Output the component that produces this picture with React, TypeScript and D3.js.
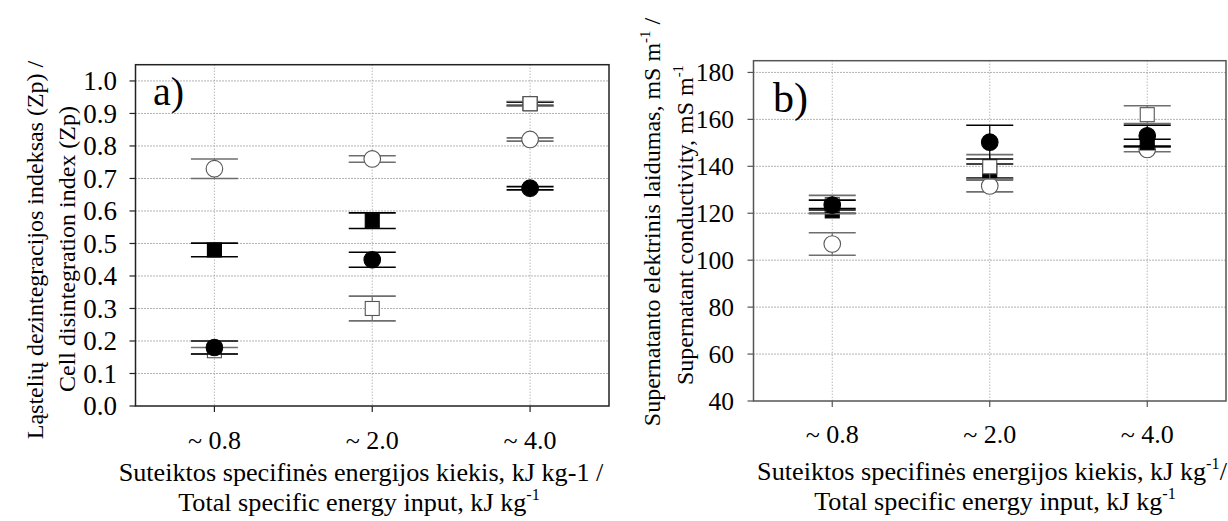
import React, { useEffect, useRef } from 'react';
import * as d3 from 'd3';

const categories = ['~ 0.8', '~ 2.0', '~ 4.0'];

// a) cell disintegration index (Zp)
const zpOpenCircle = [0.73, 0.76, 0.82];
const zpOpenCircleErr = [0.03, 0.01, 0.005];
const zpFilledCircle = [0.18, 0.45, 0.67];
const zpFilledCircleErr = [0.02, 0.023, 0.005];
const zpOpenSquare = [0.17, 0.30, 0.93];
const zpOpenSquareErr = [0.01, 0.038, 0.007];
const zpFilledSquare = [0.48, 0.57, 0.93];
const zpFilledSquareErr = [0.021, 0.024, 0.005];
const zpTicks = [0, 0.1, 0.2, 0.3, 0.4, 0.5, 0.6, 0.7, 0.8, 0.9, 1.0];

// b) supernatant conductivity, mS/m
const condOpenCircle = [106.9, 131.6, 147.2];
const condOpenCircleErr = [4.8, 2.5, 1.0];
const condFilledCircle = [123.5, 150.3, 153];
const condFilledCircleErr = [2.1, 7.2, 4.5];
const condOpenSquare = [123.7, 139.8, 162];
const condOpenSquareErr = [3.9, 5.2, 3.8];
const condFilledSquare = [121, 138, 150];
const condFilledSquareErr = [1.0, 3.0, 1.5];
const condTicks = [40, 60, 80, 100, 120, 140, 160, 180];

const FONT = "'Liberation Serif', 'Times New Roman', Times, serif";

type Part = [string, boolean];

function addRich(text: any, parts: Part[], size: number) {
  let raised = false;
  parts.forEach(([t, sup]) => {
    const ts = text.append('tspan').text(t);
    if (sup && !raised) {
      ts.attr('dy', -size * 0.42).style('font-size', `${size * 0.62}px`);
      raised = true;
    } else if (sup) {
      ts.style('font-size', `${size * 0.62}px`);
    } else if (raised) {
      ts.attr('dy', size * 0.42);
      raised = false;
    }
  });
}

interface PanelCfg {
  left: number; right: number; top: number; bottom: number;
  domain: [number, number];
  ticks: number[];
  fmt: (v: number) => string;
  frame: string;
  tag: string; tagX: number; tagY: number; tagSize: number;
  catBaseline: number;
  labelRight: number; labelSize: number;
  series: { values: number[]; errs: number[]; shape: 'circle' | 'square'; filled: boolean }[];
}

const App = () => {
  const ref = useRef<SVGSVGElement>(null);

  useEffect(() => {
    const svg = d3.select(ref.current);
    svg.selectAll('*').remove();

    const panels: PanelCfg[] = [
      {
        left: 135.5, right: 609, top: 64.7, bottom: 406,
        domain: [0, 1.05], ticks: zpTicks, fmt: d3.format('.1f'), frame: '#222',
        tag: 'a)', tagX: 153, tagY: 105, tagSize: 40, catBaseline: 449,
        labelRight: 117, labelSize: 27,
        series: [
          { values: zpOpenCircle, errs: zpOpenCircleErr, shape: 'circle', filled: false },
          { values: zpFilledSquare, errs: zpFilledSquareErr, shape: 'square', filled: true },
          { values: zpOpenSquare, errs: zpOpenSquareErr, shape: 'square', filled: false },
          { values: zpFilledCircle, errs: zpFilledCircleErr, shape: 'circle', filled: true },
        ],
      },
      {
        left: 753.5, right: 1226, top: 60.7, bottom: 401,
        domain: [40, 185], ticks: condTicks, fmt: d3.format('d'), frame: '#555',
        tag: 'b)', tagX: 773, tagY: 112, tagSize: 42, catBaseline: 443,
        labelRight: 734, labelSize: 25.5,
        series: [
          { values: condOpenCircle, errs: condOpenCircleErr, shape: 'circle', filled: false },
          { values: condFilledSquare, errs: condFilledSquareErr, shape: 'square', filled: true },
          { values: condOpenSquare, errs: condOpenSquareErr, shape: 'square', filled: false },
          { values: condFilledCircle, errs: condFilledCircleErr, shape: 'circle', filled: true },
        ],
      },
    ];

    panels.forEach(p => {
      const g = svg.append('g');
      const x = d3.scaleBand().domain(categories).range([p.left, p.right]);
      const cx = (c: string) => (x(c) as number) + x.bandwidth() / 2;
      const y = d3.scaleLinear().domain(p.domain).range([p.bottom, p.top]);

      // grid
      g.selectAll('.hgrid').data(p.ticks.filter(t => t > p.domain[0])).enter().append('line')
        .attr('x1', p.left).attr('x2', p.right)
        .attr('y1', d => y(d)).attr('y2', d => y(d))
        .attr('stroke', '#666').attr('stroke-width', 1).attr('stroke-dasharray', '1,2');
      g.selectAll('.vgrid').data(categories).enter().append('line')
        .attr('x1', d => cx(d)).attr('x2', d => cx(d))
        .attr('y1', p.top).attr('y2', p.bottom)
        .attr('stroke', '#999').attr('stroke-width', 1).attr('stroke-dasharray', '1,2');

      // y ticks and labels
      g.selectAll('.ytick').data(p.ticks).enter().append('line')
        .attr('x1', p.left - 6).attr('x2', p.left)
        .attr('y1', d => y(d)).attr('y2', d => y(d))
        .attr('stroke', p.frame).attr('stroke-width', 1.2);
      g.selectAll('.ylab').data(p.ticks).enter().append('text')
        .attr('x', p.labelRight).attr('y', d => y(d)).attr('dy', '0.34em')
        .attr('text-anchor', 'end').style('font-family', FONT).style('font-size', `${p.labelSize}px`)
        .text(d => p.fmt(d));

      // x ticks and labels
      g.selectAll('.xtick').data(categories).enter().append('line')
        .attr('x1', d => cx(d)).attr('x2', d => cx(d))
        .attr('y1', p.bottom).attr('y2', p.bottom + 6)
        .attr('stroke', p.frame).attr('stroke-width', 1.2);
      g.selectAll('.xlab').data(categories).enter().append('text')
        .attr('x', d => cx(d)).attr('y', p.catBaseline)
        .attr('text-anchor', 'middle').style('font-family', FONT).style('font-size', '26px')
        .text(d => d);

      // series with error bars
      const capHalf = 23.5;
      p.series.forEach(s => {
        const errColor = s.filled ? '#000' : '#6e6e6e';
        categories.forEach((c, i) => {
          const v = s.values[i];
          if (v == null) return;
          const e = s.errs[i];
          const px = cx(c);
          const sg = g.append('g');
          sg.append('line').attr('x1', px).attr('x2', px)
            .attr('y1', y(v + e)).attr('y2', y(v - e))
            .attr('stroke', errColor).attr('stroke-width', 1.2);
          [v + e, v - e].forEach(ev => {
            sg.append('line').attr('x1', px - capHalf).attr('x2', px + capHalf)
              .attr('y1', y(ev)).attr('y2', y(ev))
              .attr('stroke', errColor).attr('stroke-width', 1.6);
          });
          const fill = s.filled ? '#000' : '#fff';
          const stroke = s.filled ? '#000' : '#555';
          if (s.shape === 'circle') {
            sg.append('circle').attr('cx', px).attr('cy', y(v)).attr('r', 8.3)
              .attr('fill', fill).attr('stroke', stroke).attr('stroke-width', 1.1);
          } else {
            sg.append('rect').attr('x', px - 7).attr('y', y(v) - 7)
              .attr('width', 14).attr('height', 14)
              .attr('fill', fill).attr('stroke', stroke).attr('stroke-width', 1.1);
          }
        });
      });

      // frame
      g.append('rect').attr('x', p.left).attr('y', p.top)
        .attr('width', p.right - p.left).attr('height', p.bottom - p.top)
        .attr('fill', 'none').attr('stroke', p.frame).attr('stroke-width', 1.5);

      g.append('text').attr('x', p.tagX).attr('y', p.tagY)
        .style('font-family', FONT).style('font-size', `${p.tagSize}px`).text(p.tag);
    });

    // axis titles
    const title = (x: number, y: number, parts: Part[], size: number, rotate = false) => {
      const t = svg.append('text')
        .attr('transform', rotate ? `translate(${x},${y}) rotate(-90)` : `translate(${x},${y})`)
        .attr('text-anchor', 'middle').style('font-family', FONT).style('font-size', `${size}px`);
      addRich(t, parts, size);
    };

    title(43, 250, [['Ląstelių dezintegracijos indeksas (Zp) /', false]], 24, true);
    title(75, 249, [['Cell disintegration index (Zp)', false]], 24, true);
    title(361, 481, [['Suteiktos specifinės energijos kiekis, kJ kg-1 /', false]], 26.2);
    title(359, 511, [['Total specific energy input, kJ kg', false], ['-1', true]], 26.2);

    title(660, 222, [['Supernatanto elektrinis laidumas, mS m', false], ['-1', true], [' /', false]], 24, true);
    title(693, 225, [['Supernatant conductivity, mS m', false], ['-1', true]], 24, true);
    title(992, 480, [['Suteiktos specifinės energijos kiekis, kJ kg', false], ['-1', true], ['/', false]], 26.2);
    title(995, 510, [['Total specific energy input, kJ kg', false], ['-1', true]], 26.2);
  }, []);

  return (
    <svg ref={ref} width={1228} height={521}
      style={{ position: 'absolute', left: 0, top: 0, background: '#fff' }} />
  );
};

export default App;
